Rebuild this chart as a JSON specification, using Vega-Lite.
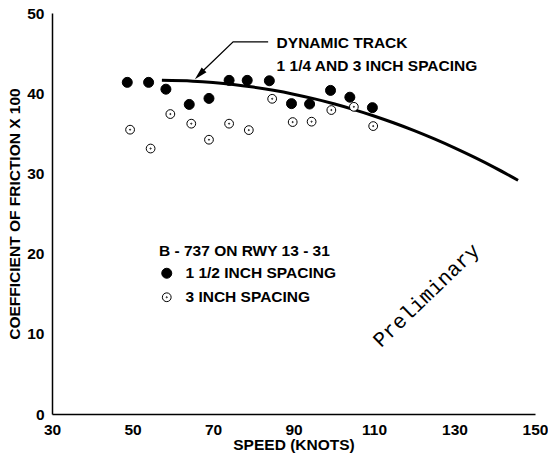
{
  "$schema": "https://vega.github.io/schema/vega-lite/v6.json",
  "width": 483,
  "height": 401,
  "autosize": {"type": "none"},
  "padding": {"left": 52, "top": 13, "right": 13, "bottom": 41},
  "background": "white",
  "config": {
    "view": {"stroke": null},
    "font": "Liberation Sans",
    "axis": {
      "domainColor": "black",
      "domainWidth": 1.5,
      "ticks": false,
      "grid": false,
      "labelFont": "Liberation Sans",
      "labelFontWeight": "bold",
      "labelFontSize": 15.5,
      "labelColor": "black",
      "titleFont": "Liberation Sans",
      "titleFontWeight": "bold",
      "titleFontSize": 15.5,
      "titleColor": "black"
    }
  },
  "datasets": {
    "obs": [
      {"speed": 48.7, "mu": 41.35, "series": "1 1/2 INCH SPACING"},
      {"speed": 54.0, "mu": 41.35, "series": "1 1/2 INCH SPACING"},
      {"speed": 58.3, "mu": 40.5, "series": "1 1/2 INCH SPACING"},
      {"speed": 64.1, "mu": 38.6, "series": "1 1/2 INCH SPACING"},
      {"speed": 69.0, "mu": 39.35, "series": "1 1/2 INCH SPACING"},
      {"speed": 74.0, "mu": 41.6, "series": "1 1/2 INCH SPACING"},
      {"speed": 78.5, "mu": 41.6, "series": "1 1/2 INCH SPACING"},
      {"speed": 84.0, "mu": 41.55, "series": "1 1/2 INCH SPACING"},
      {"speed": 89.5, "mu": 38.7, "series": "1 1/2 INCH SPACING"},
      {"speed": 94.0, "mu": 38.65, "series": "1 1/2 INCH SPACING"},
      {"speed": 99.2, "mu": 40.35, "series": "1 1/2 INCH SPACING"},
      {"speed": 104.0, "mu": 39.5, "series": "1 1/2 INCH SPACING"},
      {"speed": 109.6, "mu": 38.2, "series": "1 1/2 INCH SPACING"},
      {"speed": 49.4, "mu": 35.45, "series": "3 INCH SPACING"},
      {"speed": 54.5, "mu": 33.1, "series": "3 INCH SPACING"},
      {"speed": 59.4, "mu": 37.4, "series": "3 INCH SPACING"},
      {"speed": 64.6, "mu": 36.2, "series": "3 INCH SPACING"},
      {"speed": 69.0, "mu": 34.2, "series": "3 INCH SPACING"},
      {"speed": 74.0, "mu": 36.2, "series": "3 INCH SPACING"},
      {"speed": 78.9, "mu": 35.4, "series": "3 INCH SPACING"},
      {"speed": 84.7, "mu": 39.3, "series": "3 INCH SPACING"},
      {"speed": 89.8, "mu": 36.4, "series": "3 INCH SPACING"},
      {"speed": 94.5, "mu": 36.45, "series": "3 INCH SPACING"},
      {"speed": 99.4, "mu": 37.9, "series": "3 INCH SPACING"},
      {"speed": 105.0, "mu": 38.3, "series": "3 INCH SPACING"},
      {"speed": 109.8, "mu": 35.9, "series": "3 INCH SPACING"}
    ],
    "track": [
      {"speed": 57.3, "mu": 41.6},
      {"speed": 65, "mu": 41.5},
      {"speed": 70, "mu": 41.33},
      {"speed": 75, "mu": 41.09},
      {"speed": 80, "mu": 40.76},
      {"speed": 85, "mu": 40.36},
      {"speed": 90, "mu": 39.88},
      {"speed": 95, "mu": 39.32},
      {"speed": 100, "mu": 38.68},
      {"speed": 105, "mu": 37.96},
      {"speed": 110, "mu": 37.16},
      {"speed": 115, "mu": 36.28},
      {"speed": 120, "mu": 35.33},
      {"speed": 125, "mu": 34.29},
      {"speed": 130, "mu": 33.18},
      {"speed": 135, "mu": 31.99},
      {"speed": 140, "mu": 30.72},
      {"speed": 145.8, "mu": 29.14}
    ],
    "leader": [
      {"speed": 83.7, "mu": 46.4, "ord": 1},
      {"speed": 75.0, "mu": 46.4, "ord": 2},
      {"speed": 66.5, "mu": 42.3, "ord": 3}
    ],
    "tip": [{"speed": 65.5, "mu": 41.75}],
    "notes": [
      {"speed": 85.8, "mu": 46.3, "label": "DYNAMIC TRACK"},
      {"speed": 85.8, "mu": 43.35, "label": "1 1/4 AND 3 INCH SPACING"}
    ],
    "stamp": [{"speed": 123.1, "mu": 14.75, "label": "Preliminary"}],
    "xticks": [{"speed": 50}, {"speed": 70}, {"speed": 90}, {"speed": 110}, {"speed": 130}, {"speed": 150}],
    "yticks": [{"mu": 10}, {"mu": 20}, {"mu": 30}, {"mu": 40}, {"mu": 50}]
  },
  "encoding": {
    "x": {
      "field": "speed",
      "type": "quantitative",
      "scale": {"domain": [30, 150], "nice": false, "zero": false},
      "axis": {"title": "SPEED (KNOTS)", "values": [30, 50, 70, 90, 110, 130, 150], "labelPadding": 8, "titlePadding": 0, "labelFlush": false, "labelOverlap": false}
    },
    "y": {
      "field": "mu",
      "type": "quantitative",
      "scale": {"domain": [0, 50], "nice": false},
      "axis": {"title": "COEFFICIENT OF FRICTION X 100", "values": [0, 10, 20, 30, 40, 50], "labelPadding": 8, "titlePadding": 4, "labelFlush": false, "labelOverlap": false}
    }
  },
  "layer": [
    {
      "data": {"name": "xticks"},
      "mark": {"type": "point", "shape": "M0,0L0,-1", "filled": false, "stroke": "black", "strokeWidth": 1.6, "size": 441, "opacity": 1},
      "encoding": {
        "y": {"datum": 0}
      }
    },
    {
      "data": {"name": "yticks"},
      "mark": {"type": "point", "shape": "M0,0L1,0", "filled": false, "stroke": "black", "strokeWidth": 1.6, "size": 484, "opacity": 1},
      "encoding": {
        "x": {"datum": 30}
      }
    },
    {
      "data": {"name": "track"},
      "mark": {"type": "line", "color": "black", "strokeWidth": 3, "interpolate": "monotone"}
    },
    {
      "data": {"name": "leader"},
      "mark": {"type": "line", "color": "black", "strokeWidth": 1.3},
      "encoding": {"order": {"field": "ord", "type": "quantitative"}}
    },
    {
      "data": {"name": "tip"},
      "mark": {"type": "point", "shape": "M0,0L0.26,1L-0.26,1Z", "filled": true, "color": "black", "size": 676, "angle": 225, "opacity": 1}
    },
    {
      "data": {"name": "obs"},
      "mark": {"type": "point", "filled": true, "stroke": "black", "strokeWidth": 1, "opacity": 1},
      "encoding": {
        "shape": {
          "field": "series", "type": "nominal",
          "scale": {"domain": ["1 1/2 INCH SPACING", "3 INCH SPACING"], "range": ["circle", "M-1,0A1,1 0 1,1 1,0A1,1 0 1,1 -1,0Z M-0.13,0A0.13,0.13 0 1,1 0.13,0A0.13,0.13 0 1,1 -0.13,0Z"]},
          "legend": {
            "title": "B - 737 ON RWY 13 - 31",
            "orient": "none",
            "legendX": 107,
            "legendY": 231,
            "padding": 0,
            "titleFont": "Liberation Sans",
            "titleFontWeight": "bold",
            "titleFontSize": 15.5,
            "titleColor": "black",
            "titlePadding": 6,
            "labelFont": "Liberation Sans",
            "labelFontWeight": "bold",
            "labelFontSize": 15.5,
            "labelColor": "black",
            "labelOffset": 11,
            "rowPadding": 7,
            "symbolStrokeColor": "black",
            "symbolStrokeWidth": 1
          }
        },
        "fill": {
          "field": "series", "type": "nominal",
          "scale": {"domain": ["1 1/2 INCH SPACING", "3 INCH SPACING"], "range": ["black", "white"]},
          "legend": {"title": "B - 737 ON RWY 13 - 31"}
        },
        "size": {
          "field": "series", "type": "nominal",
          "scale": {"domain": ["1 1/2 INCH SPACING", "3 INCH SPACING"], "range": [100, 77]},
          "legend": {"title": "B - 737 ON RWY 13 - 31"}
        }
      }
    },
    {
      "data": {"name": "notes"},
      "mark": {"type": "text", "align": "left", "baseline": "middle", "font": "Liberation Sans", "fontWeight": "bold", "fontSize": 15.5, "color": "black"},
      "encoding": {"text": {"field": "label"}}
    },
    {
      "data": {"name": "stamp"},
      "mark": {"type": "text", "align": "center", "baseline": "middle", "font": "Liberation Mono", "fontSize": 21, "angle": -44, "color": "black"},
      "encoding": {"text": {"field": "label"}}
    }
  ]
}
